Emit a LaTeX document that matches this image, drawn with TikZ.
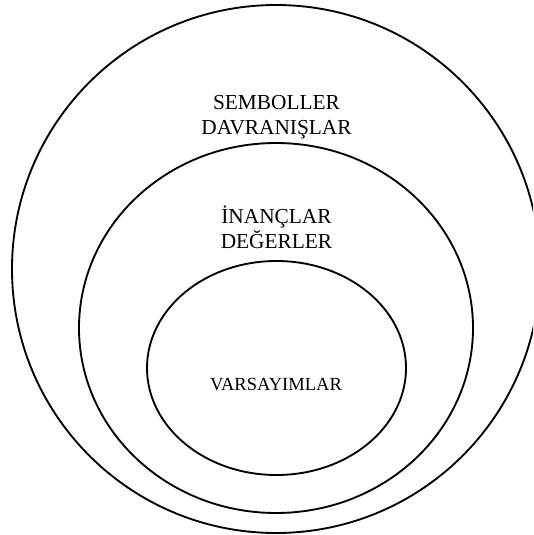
\documentclass[tikz,border=0pt]{standalone}
\usepackage{fontspec}
\setmainfont{Liberation Serif}
\usepackage{tikz}
\usetikzlibrary{positioning}

\begin{document}
\begin{tikzpicture}[
    x=0.75pt, y=-0.75pt,
    ring/.style={draw=black, line width=1.4pt},
    label/.style={align=center, anchor=base, inner sep=0pt, font=\fontsize{16}{18.2}\selectfont},
    core/.style={anchor=base, inner sep=0pt, font=\fontsize{13.9}{16}\selectfont}
]

% FRAME
\useasboundingbox (0,0) rectangle (533,535);
\clip (0,0) rectangle (533,535);

% LAYERS
\draw[ring] (276,269) ellipse [x radius=264, y radius=264];
\draw[ring] (276,328) ellipse [x radius=197, y radius=185];
\draw[ring] (276.5,368) ellipse [x radius=129.5, y radius=107];

% TEXTS
\node[label] (semb) at (276.5,134) {SEMBOLLER\\DAVRANIŞLAR};
\node[label] (inan) at (276.5,248) {İNANÇLAR\\DEĞERLER};
\node[core] (vars) at (276,390) {VARSAYIMLAR};

\end{tikzpicture}
\end{document}
